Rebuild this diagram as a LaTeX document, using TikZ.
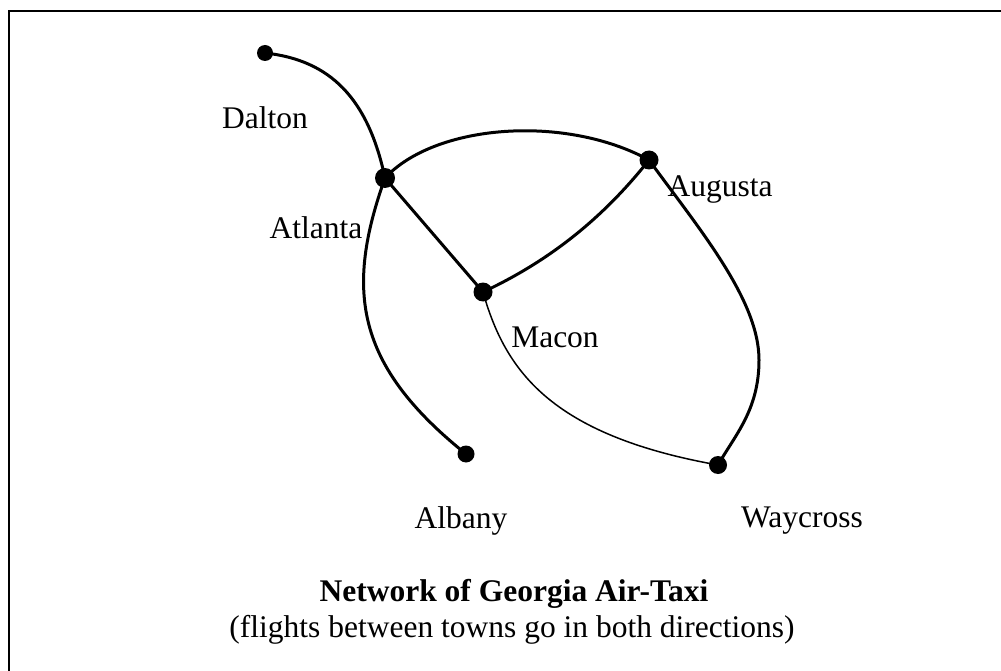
\documentclass[tikz,border=0pt]{standalone}
\usepackage{fontspec}
\setmainfont{Liberation Serif}
\begin{document}
\begin{tikzpicture}[x=1pt,y=-1pt,
  town/.style={circle,fill=black,inner sep=0pt,minimum size=19pt},
  lbl/.style={inner sep=0pt,font=\fontsize{31.5}{36}\selectfont},
  route/.style={line width=3pt},
  thinroute/.style={line width=1.5pt}]
\useasboundingbox (0,0) rectangle (1001,671);
\draw[line width=2pt] (9,671) -- (9,11) -- (1001,11);
% towns
\node[town,minimum size=16pt] (dal) at (265,53) {};
\node[town,minimum size=20pt] (atl) at (385,178) {};
\node[town] (aug) at (649,160) {};
\node[town] (mac) at (483,292) {};
\node[town,minimum size=17pt] (alb) at (466,454) {};
\node[town,minimum size=18pt] (way) at (718,465) {};
% labels
\node[lbl] (tdal) at (265,118) {Dalton};
\node[lbl] (tatl) at (316,228) {Atlanta};
\node[lbl] (taug) at (720,190) {Augusta};
\node[lbl] (tmac) at (555,337) {Macon};
\node[lbl] (talb) at (461,521) {Albany};
\node[lbl] (tway) at (802,521) {Waycross};
\node[lbl,font=\fontsize{31.5}{36}\selectfont\bfseries] (title) at (514,594) {Network of Georgia Air-Taxi};
\node[lbl] (sub) at (512,630) {(flights between towns go in both directions)};
% routes
\draw[route] (dal.center) .. controls (330,60) and (368,98) .. (atl.center);
\draw[route] (atl.center) .. controls (435,124) and (565,114) .. (aug.center);
\draw[route] (atl.center) -- (mac.center);
\draw[route] (mac.center) .. controls (545,263) and (600,222) .. (aug.center);
\draw[route] (aug.center) .. controls (700,230) and (759,300) .. (759,360)
  .. controls (759,410) and (735,435) .. (way.center);
\draw[thinroute] (mac.center) .. controls (505,370) and (550,435) .. (way.center);
\draw[route] (atl.center) .. controls (345,290) and (355,365) .. (alb.center);
\end{tikzpicture}
\end{document}
